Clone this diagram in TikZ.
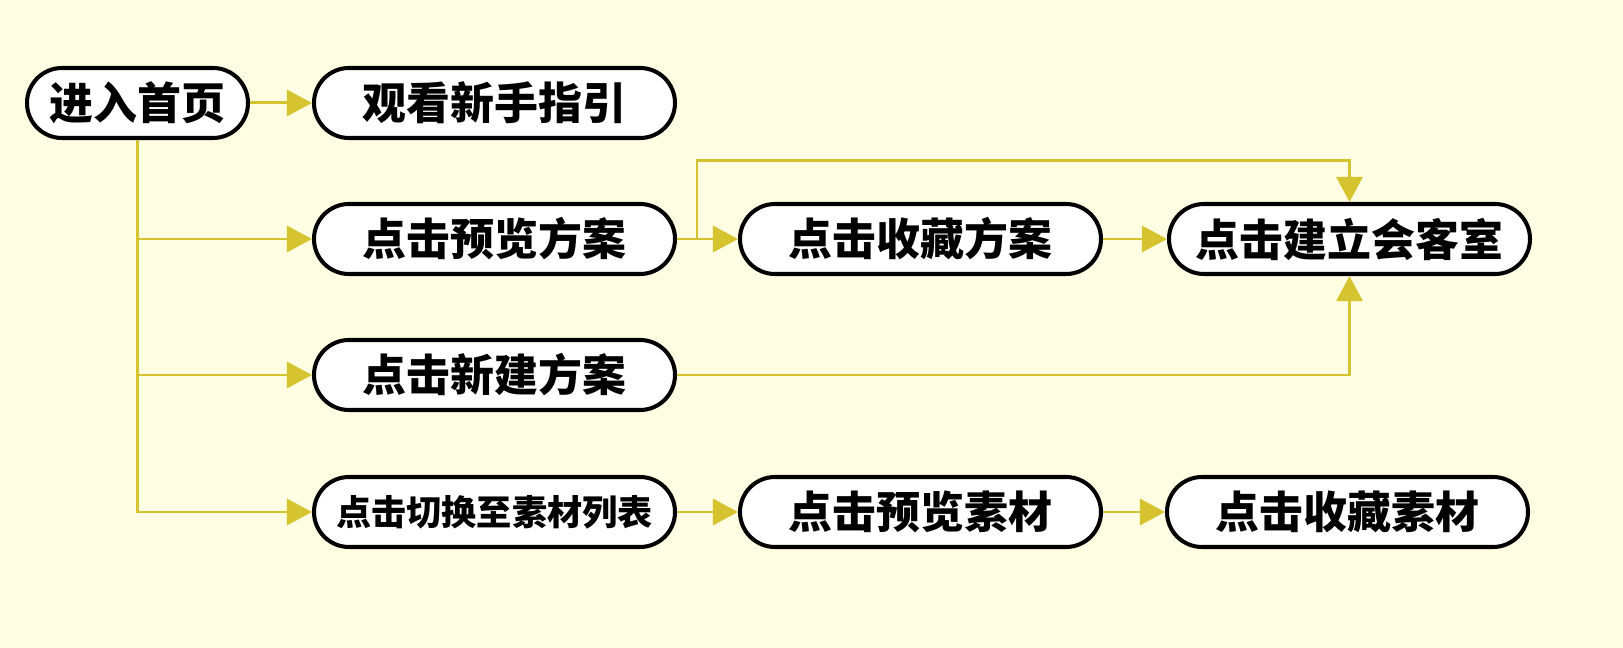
\documentclass[tikz,border=0pt]{standalone}
\usepackage{fontspec}
\usepackage{xcolor}
\usetikzlibrary{arrows.meta,positioning,calc}
\newfontfamily\cjk{Noto Sans CJK SC}
\definecolor{flowbg}{RGB}{255,253,226}
\definecolor{flowline}{RGB}{214,195,48}

\begin{document}
\begin{tikzpicture}[
    step box/.style={rectangle, draw=black, line width=2.3pt, fill=white, rounded corners=0.7cm,
                     minimum width=7.22cm, minimum height=1.4cm, align=center,
                     font=\cjk\bfseries\fontsize{25}{28}\selectfont},
    link/.style={-{Triangle[length=0.5cm,width=0.52cm]}, line width=1.7pt, draw=flowline}
]

% Background
\fill[flowbg] (0,0) rectangle (32.46,12.96);
\useasboundingbox (0,0) rectangle (32.46,12.96);

% Main flow
\node[step box, minimum width=4.42cm] (home) at (2.75,10.90) {进入首页};
\node[step box] (guide) at (9.89,10.90) {观看新手指引};
\node[step box] (preview) at (9.89,8.18) {点击预览方案};
\node[step box] (collect) at (18.41,8.18) {点击收藏方案};
\node[step box] (room) at (26.99,8.18) {点击建立会客室};
\node[step box] (create) at (9.89,5.46) {点击新建方案};
\node[step box, font=\cjk\bfseries\fontsize{20}{24}\selectfont] (switch) at (9.89,2.72) {点击切换至素材列表};
\node[step box] (prevmat) at (18.41,2.72) {点击预览素材};
\node[step box] (collmat) at (26.95,2.72) {点击收藏素材};
\coordinate (bend) at (13.94,9.74);

% Arrows
\draw[link] (home) -- (guide);
\draw[link] (home.south) |- (preview.west);
\draw[link] (home.south) |- (create.west);
\draw[link] (home.south) |- (switch.west);
\draw[link] (preview) -- (collect);
\draw[link] (collect) -- (room);
\draw[link] (preview.east) -| (bend) -| (room.north);
\draw[link] (create.east) -| (room.south);
\draw[link] (switch) -- (prevmat);
\draw[link] (prevmat) -- (collmat);

\end{tikzpicture}
\end{document}
